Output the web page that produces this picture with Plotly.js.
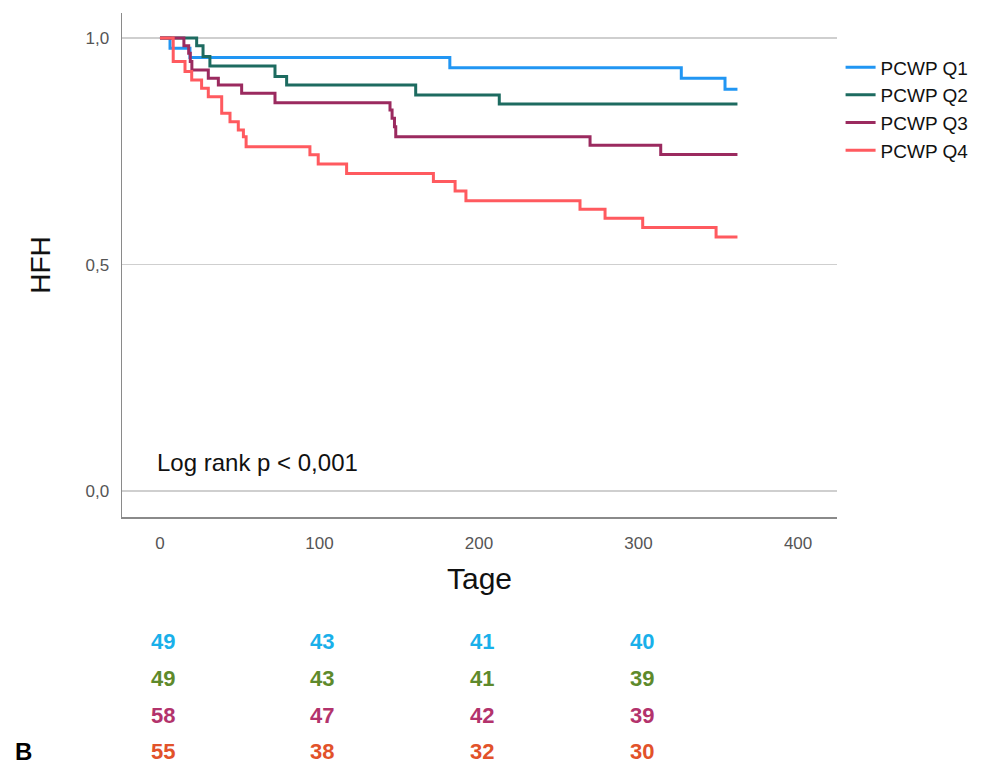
<!DOCTYPE html>
<html>
<head>
<meta charset="utf-8">
<script src="https://cdn.plot.ly/plotly-3.0.1.min.js"></script>
<style>html,body{margin:0;padding:0;background:#fff;}#chart{width:998px;height:767px;}</style>
</head>
<body>
<div id="chart"></div>
<script>
// Kaplan-Meier step data (days, survival)
const q1Days = [0, 6.3, 18.8, 181.7, 326.8, 354.2, 362];
const q1Surv = [1, 0.977, 0.957, 0.934, 0.911, 0.887, 0.887];
const q2Days = [0, 23, 27, 31.3, 72.1, 79.4, 160.3, 212.7, 362];
const q2Surv = [1, 0.983, 0.959, 0.938, 0.915, 0.896, 0.874, 0.854, 0.854];
const q3Days = [0, 15, 18, 19, 20, 30.3, 36.6, 51.2, 72.1, 144.2, 145.5, 147, 147.8, 269.6, 313.9, 362];
const q3Surv = [1, 0.983, 0.966, 0.948, 0.929, 0.911, 0.896, 0.878, 0.857, 0.841, 0.823, 0.804, 0.782, 0.763, 0.743, 0.743];
const q4Days = [0, 8.3, 15.7, 19.9, 26.1, 30.3, 38.7, 43.9, 49.1, 52.3, 54, 94, 99.2, 117, 171.4, 185, 191.8, 263.3, 279, 302.6, 348.6, 362];
const q4Surv = [1, 0.948, 0.926, 0.907, 0.889, 0.870, 0.834, 0.815, 0.797, 0.782, 0.760, 0.742, 0.722, 0.701, 0.683, 0.662, 0.641, 0.622, 0.602, 0.582, 0.561, 0.561];

const groupNames = ["PCWP Q1", "PCWP Q2", "PCWP Q3", "PCWP Q4"];
const lineColors = ["#2196f3", "#1d6b60", "#9b2a5f", "#ff5a5f"];

// Numbers at risk
const riskTimes = [0, 100, 200, 300];
const riskQ1 = [49, 43, 41, 40];
const riskQ2 = [49, 43, 41, 39];
const riskQ3 = [58, 47, 42, 39];
const riskQ4 = [55, 38, 32, 30];
const riskColors = ["#19b0ea", "#5e8a2c", "#b3336c", "#e2522a"];

const yTicks = [0, 0.5, 1.0];
const xTicks = [0, 100, 200, 300, 400];

const days = [q1Days, q2Days, q3Days, q4Days];
const surv = [q1Surv, q2Surv, q3Surv, q4Surv];
const traces = groupNames.map((n, i) => ({
  x: days[i], y: surv[i], name: n, type: 'scatter', mode: 'lines',
  line: {shape: 'hv', color: lineColors[i], width: 3}
}));

const riskRows = [riskQ1, riskQ2, riskQ3, riskQ4];
const rowY = [-0.248, -0.321, -0.393, -0.466];
const annotations = [];
riskRows.forEach((row, r) => {
  row.forEach((v, k) => {
    annotations.push({
      x: riskTimes[k], xref: 'x', y: rowY[r], yref: 'paper', xshift: 3,
      text: '<b>' + v + '</b>', showarrow: false, xanchor: 'center', yanchor: 'middle',
      font: {family: 'Liberation Sans Narrow, Arial Narrow, Liberation Sans, Arial', size: 22, color: riskColors[r]}
    });
  });
});
annotations.push({
  x: -0.152, xref: 'paper', y: -0.466, yref: 'paper', text: '<b>B</b>', showarrow: false,
  xanchor: 'left', yanchor: 'middle', font: {family: 'Liberation Sans, Arial', size: 24, color: '#000'}
});
annotations.push({
  x: 0.046, xref: 'paper', y: 0.108, yref: 'paper', text: 'Log rank p &lt; 0,001', showarrow: false,
  xanchor: 'left', yanchor: 'middle', font: {family: 'Liberation Sans, Arial', size: 24, color: '#111'}
});

const layout = {
  width: 998, height: 767,
  margin: {l: 122, r: 161, t: 13, b: 250},
  paper_bgcolor: '#fff', plot_bgcolor: '#fff',
  separators: ',.',
  showlegend: true,
  legend: {x: 1.005, y: 0.93, xanchor: 'left', yanchor: 'top', bgcolor: 'rgba(0,0,0,0)',
    font: {family: 'Liberation Sans, Arial', size: 19, color: '#111'}, tracegroupgap: 0, itemwidth: 30},
  xaxis: {
    range: [-23.8, 424.4], tickvals: xTicks, ticktext: xTicks.map(String),
    showgrid: false, zeroline: false, showline: true, linecolor: '#8a8a8a', linewidth: 1.5,
    ticks: '', ticklabelstandoff: 10,
    tickfont: {family: 'Liberation Sans, Arial', size: 17, color: '#555'},
    title: {text: 'Tage', font: {family: 'Liberation Sans, Arial', size: 30, color: '#111'}, standoff: 16}
  },
  yaxis: {
    range: [-0.057, 1.055], tickvals: yTicks, ticktext: yTicks.map(v => v.toFixed(1).replace('.', ',')),
    showgrid: true, gridcolor: '#cfcfcf', gridwidth: 1.5, zeroline: false,
    showline: true, linecolor: '#8a8a8a', linewidth: 1.5, ticks: '', ticklabelstandoff: 8,
    tickfont: {family: 'Liberation Sans, Arial', size: 17, color: '#555'},
    title: {text: 'HFH', font: {family: 'Liberation Sans, Arial', size: 28, color: '#111'}, standoff: 26}
  },
  annotations: annotations
};

Plotly.newPlot('chart', traces, layout, {displayModeBar: false, staticPlot: true});
</script>
</body>
</html>
